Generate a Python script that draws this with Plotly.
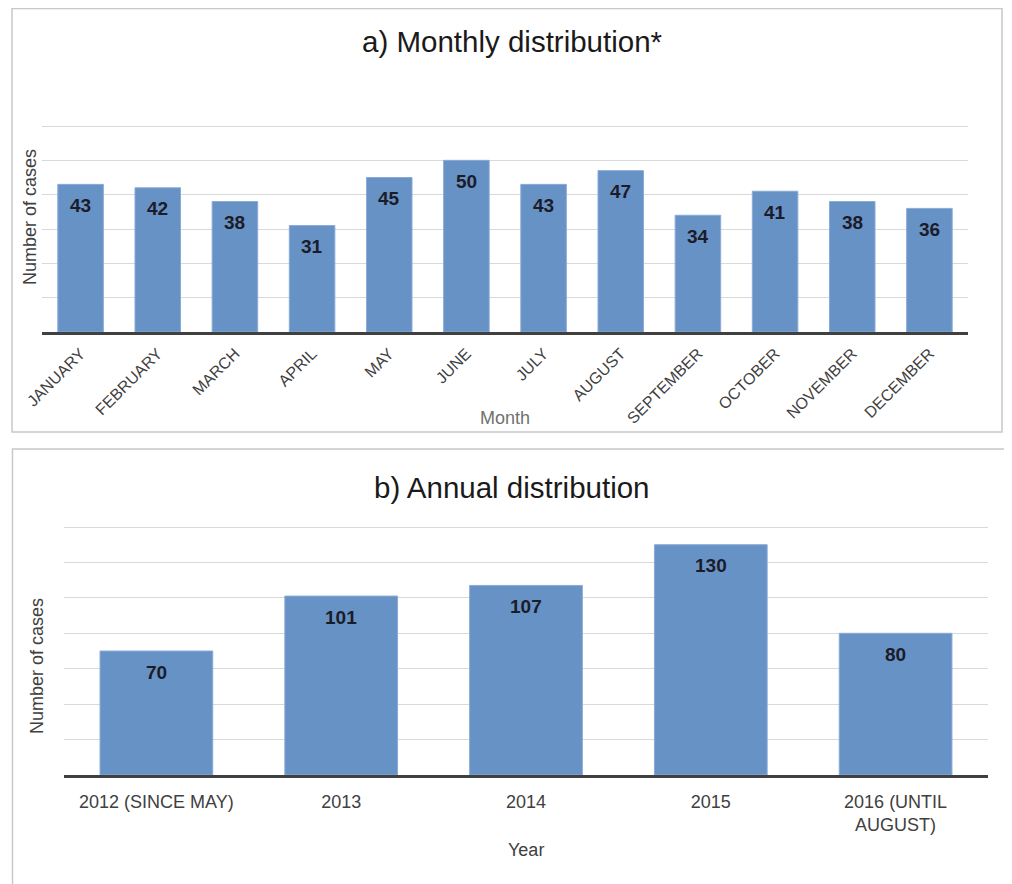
import plotly.graph_objects as go

months = ["JANUARY", "FEBRUARY", "MARCH", "APRIL", "MAY", "JUNE", "JULY",
          "AUGUST", "SEPTEMBER", "OCTOBER", "NOVEMBER", "DECEMBER"]
month_cases = [43, 42, 38, 31, 45, 50, 43, 47, 34, 41, 38, 36]

years = ["2012 (SINCE MAY)", "2013", "2014", "2015", "2016 (UNTIL<br>AUGUST)"]
year_cases = [70, 101, 107, 130, 80]

# page body adds an 8px offset; figure is sized to fill the remaining window
OFF = 8
W, H = 1012 - OFF, 884 - OFF
FONT = "Liberation Sans, Arial, sans-serif"
BAR = "#6792c6"
BAR_EDGE = "#8aaad6"
DARK = "#404040"


def px(x):
    return (x - OFF) / W


def py(y):
    return 1 - (y - OFF) / H


fig = go.Figure()

fig.add_trace(go.Bar(
    x=months, y=month_cases, xaxis="x", yaxis="y",
    marker=dict(color=BAR, line=dict(color=BAR_EDGE, width=1)),
    hoverinfo="x+y", showlegend=False,
))
fig.add_trace(go.Bar(
    x=years, y=year_cases, xaxis="x2", yaxis="y2", width=0.61,
    marker=dict(color=BAR, line=dict(color=BAR_EDGE, width=1)),
    hoverinfo="x+y", showlegend=False,
))

annotations = []
# category axes: annotation positions given as category index
for i, v in enumerate(month_cases):
    annotations.append(dict(x=i, y=v, xref="x", yref="y", text=f"<b>{v}</b>",
                            showarrow=False, yshift=-21, yanchor="middle",
                            font=dict(family=FONT, size=19, color="#1c1c28")))
for i, v in enumerate(year_cases):
    annotations.append(dict(x=i, y=v, xref="x2", yref="y2", text=f"<b>{v}</b>",
                            showarrow=False, yshift=-21, yanchor="middle",
                            font=dict(family=FONT, size=19, color="#1c1c28")))

annotations += [
    dict(x=px(512), y=py(41), xref="paper", yref="paper", text="a) Monthly distribution*",
         showarrow=False, xanchor="center", yanchor="middle",
         font=dict(family=FONT, size=29.5, color="#1a1a1a")),
    dict(x=px(512), y=py(487), xref="paper", yref="paper", text="b) Annual distribution",
         showarrow=False, xanchor="center", yanchor="middle",
         font=dict(family=FONT, size=29.5, color="#1a1a1a")),
    dict(x=px(30), y=py(217), xref="paper", yref="paper", text="Number of cases",
         showarrow=False, textangle=-90, xanchor="center", yanchor="middle",
         font=dict(family=FONT, size=18, color=DARK)),
    dict(x=px(37), y=py(666), xref="paper", yref="paper", text="Number of cases",
         showarrow=False, textangle=-90, xanchor="center", yanchor="middle",
         font=dict(family=FONT, size=18, color=DARK)),
    dict(x=px(505), y=py(418), xref="paper", yref="paper", text="Month",
         showarrow=False, xanchor="center", yanchor="middle",
         font=dict(family=FONT, size=18, color="#707070")),
    dict(x=px(526), y=py(850), xref="paper", yref="paper", text="Year",
         showarrow=False, xanchor="center", yanchor="middle",
         font=dict(family=FONT, size=18, color=DARK)),
]

shapes = [
    dict(type="rect", xref="paper", yref="paper",
         x0=px(12), x1=px(1002), y0=py(432), y1=py(8.5),
         line=dict(color="#c8c8c8", width=1.5), fillcolor="rgba(0,0,0,0)", layer="below"),
    dict(type="rect", xref="paper", yref="paper",
         x0=px(12.5), x1=px(1010), y0=py(900), y1=py(449),
         line=dict(color="#c8c8c8", width=1.5), fillcolor="rgba(0,0,0,0)", layer="below"),
]

# value->pixel scales measured from the reference: panel a 206px per 60 cases,
# panel b 248px per 140 cases; ranges padded so the top gridline is drawn
A_RANGE = [0, 62]
B_RANGE = [0, 145]
a_top = 332 - A_RANGE[1] * 206 / 60
b_top = 775 - B_RANGE[1] * 248 / 140

fig.update_layout(
    width=W, height=H, autosize=False,
    margin=dict(l=0, r=0, t=0, b=0, autoexpand=False),
    paper_bgcolor="white", plot_bgcolor="white",
    bargap=0.41,
    annotations=annotations,
    shapes=shapes,
    font=dict(family=FONT, color=DARK),
    xaxis=dict(domain=[px(42), px(968)], anchor="y", type="category", automargin=False,
               range=[-0.5, len(months) - 0.5],
               showgrid=False, showline=True, linecolor=DARK, linewidth=3,
               tickangle=-45, ticks="", tickfont=dict(family=FONT, size=16, color=DARK),
               ticklabelstandoff=3, fixedrange=True),
    yaxis=dict(domain=[py(332), py(a_top)], anchor="x", range=A_RANGE, dtick=10, tick0=0,
               automargin=False, showgrid=True, gridcolor="#d9d9d9", gridwidth=1.2,
               showticklabels=False, zeroline=False, ticks="", fixedrange=True),
    xaxis2=dict(domain=[px(64), px(988)], anchor="y2", type="category", automargin=False,
                range=[-0.5, len(years) - 0.5],
                showgrid=False, showline=True, linecolor=DARK, linewidth=3,
                ticks="", tickfont=dict(family=FONT, size=18, color=DARK),
                ticklabelstandoff=8, fixedrange=True),
    yaxis2=dict(domain=[py(775), py(b_top)], anchor="x2", range=B_RANGE, dtick=20, tick0=0,
                automargin=False, showgrid=True, gridcolor="#d9d9d9", gridwidth=1.2,
                showticklabels=False, zeroline=False, ticks="", fixedrange=True),
)

fig.write_html("out.html")
